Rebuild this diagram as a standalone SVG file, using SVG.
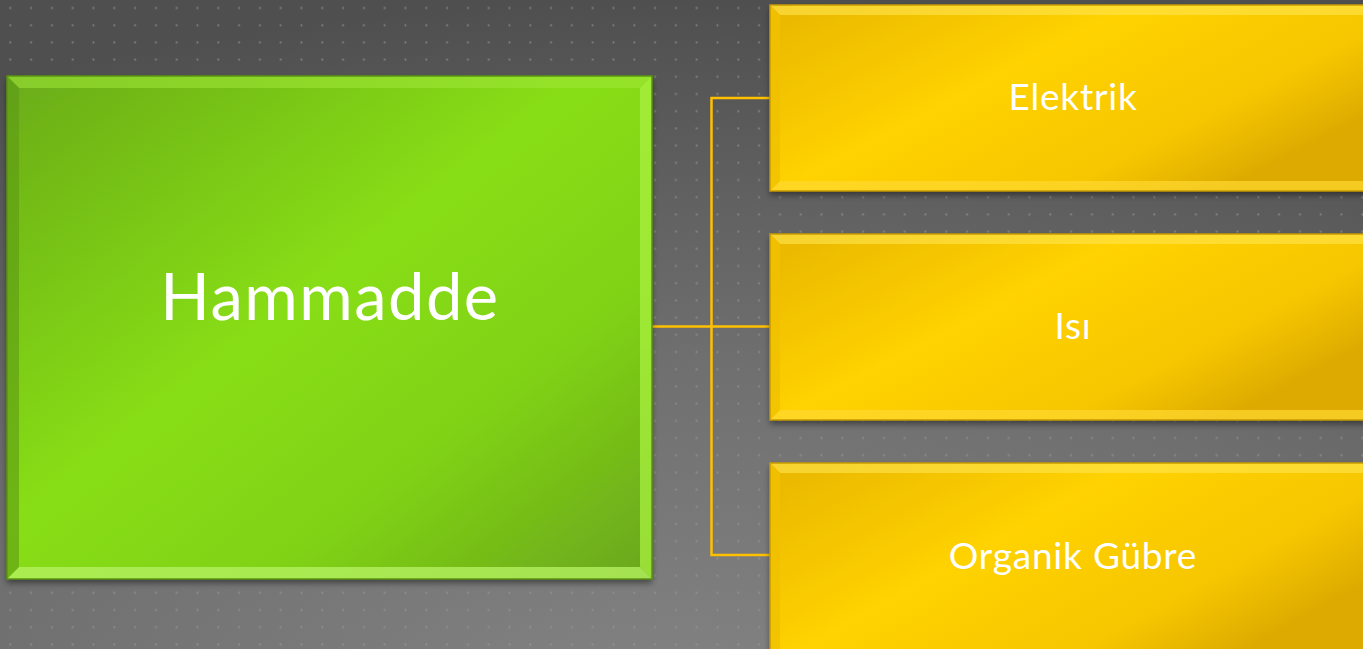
<svg xmlns="http://www.w3.org/2000/svg" width="1363" height="649" viewBox="0 0 1363 649">
<defs>
<radialGradient id="bg" cx="0.5" cy="1.1" r="1.1">
<stop offset="0" stop-color="#848484"/>
<stop offset="0.5" stop-color="#6f6f6f"/>
<stop offset="1" stop-color="#4f4f4f"/>
</radialGradient>
<pattern id="dots" x="1" y="-2" width="20.8" height="17.2" patternUnits="userSpaceOnUse">
<rect x="8.5" y="9" width="1.6" height="2" fill="#9a9a9a" opacity="0.7"/>
</pattern>
<linearGradient id="gg" x1="0" y1="0" x2="1" y2="1">
<stop offset="0" stop-color="#6aac1a"/>
<stop offset="0.45" stop-color="#88de14"/>
<stop offset="0.7" stop-color="#80d216"/>
<stop offset="1" stop-color="#6aa61c"/>
</linearGradient>
<linearGradient id="yg" x1="0" y1="0" x2="1" y2="0.6">
<stop offset="0" stop-color="#e8b600"/>
<stop offset="0.45" stop-color="#ffd200"/>
<stop offset="0.8" stop-color="#f6c600"/>
<stop offset="1" stop-color="#dcaa00"/>
</linearGradient>
<filter id="sh" x="-5%" y="-5%" width="110%" height="115%">
<feDropShadow dx="0" dy="4" stdDeviation="3" flood-color="#000" flood-opacity="0.45"/>
</filter>
</defs>
<style>
.conn{fill:none;stroke:#ffc000;stroke-width:2.5}
.lbl{font-family:"Gill Sans","Lato","Liberation Sans",sans-serif;fill:#ffffff;text-anchor:middle}
</style>
<rect width="1363" height="649" fill="url(#bg)"/>
<rect width="1363" height="649" fill="url(#dots)"/>
<g id="connectors">
<path class="conn" d="M651,326.5 H770"/>
<path class="conn" d="M770,98 H711.5 V555 H770"/>
</g>
<g id="node-hammadde">
<rect x="7" y="76" width="645" height="503" fill="url(#gg)" filter="url(#sh)"/>
<polygon points="7,76 652,76 640,88 19,88" fill="#a0e83a" opacity="0.55"/>
<polygon points="640,88 652,76 652,579 640,567" fill="#a8f040" opacity="0.75"/>
<polygon points="19,567 640,567 652,579 7,579" fill="#b4f060" opacity="0.8"/>
<polygon points="7,76 19,88 19,567 7,579" fill="#5e9a16" opacity="0.6"/>
<rect x="7" y="76" width="645" height="503" fill="none" stroke="#5a9412" stroke-width="1.5"/>
<text class="lbl" x="330" y="320" font-size="65" letter-spacing="1.5">Hammadde</text>
</g>
<g id="node-elektrik">
<rect x="770" y="5" width="600" height="186" fill="url(#yg)" filter="url(#sh)"/>
<polygon points="770,5 1370,5 1370,15 780,15" fill="#ffe650" opacity="0.6"/>
<polygon points="780,181 1370,181 1370,191 770,191" fill="#ffd830" opacity="0.7"/>
<polygon points="770,5 780,15 780,181 770,191" fill="#f0c000" opacity="0.8"/>
<rect x="770" y="5" width="600" height="186" fill="none" stroke="#c89a00" stroke-width="1.5"/>
<text class="lbl" x="1073" y="110" font-size="37" letter-spacing="0.8">Elektrik</text>
</g>
<g id="node-isi">
<rect x="770" y="234" width="600" height="186" fill="url(#yg)" filter="url(#sh)"/>
<polygon points="770,234 1370,234 1370,244 780,244" fill="#ffe650" opacity="0.6"/>
<polygon points="780,410 1370,410 1370,420 770,420" fill="#ffd830" opacity="0.7"/>
<polygon points="770,234 780,244 780,410 770,420" fill="#f0c000" opacity="0.8"/>
<rect x="770" y="234" width="600" height="186" fill="none" stroke="#c89a00" stroke-width="1.5"/>
<text class="lbl" x="1073" y="339" font-size="37" letter-spacing="0.8">Isı</text>
</g>
<g id="node-organik-gubre">
<rect x="770" y="463" width="600" height="200" fill="url(#yg)" filter="url(#sh)"/>
<polygon points="770,463 1370,463 1370,473 780,473" fill="#ffe650" opacity="0.6"/>
<polygon points="770,463 780,473 780,660 770,660" fill="#f0c000" opacity="0.8"/>
<rect x="770" y="463" width="600" height="200" fill="none" stroke="#c89a00" stroke-width="1.5"/>
<text class="lbl" x="1073" y="569" font-size="37" letter-spacing="0.8">Organik Gübre</text>
</g>
</svg>
